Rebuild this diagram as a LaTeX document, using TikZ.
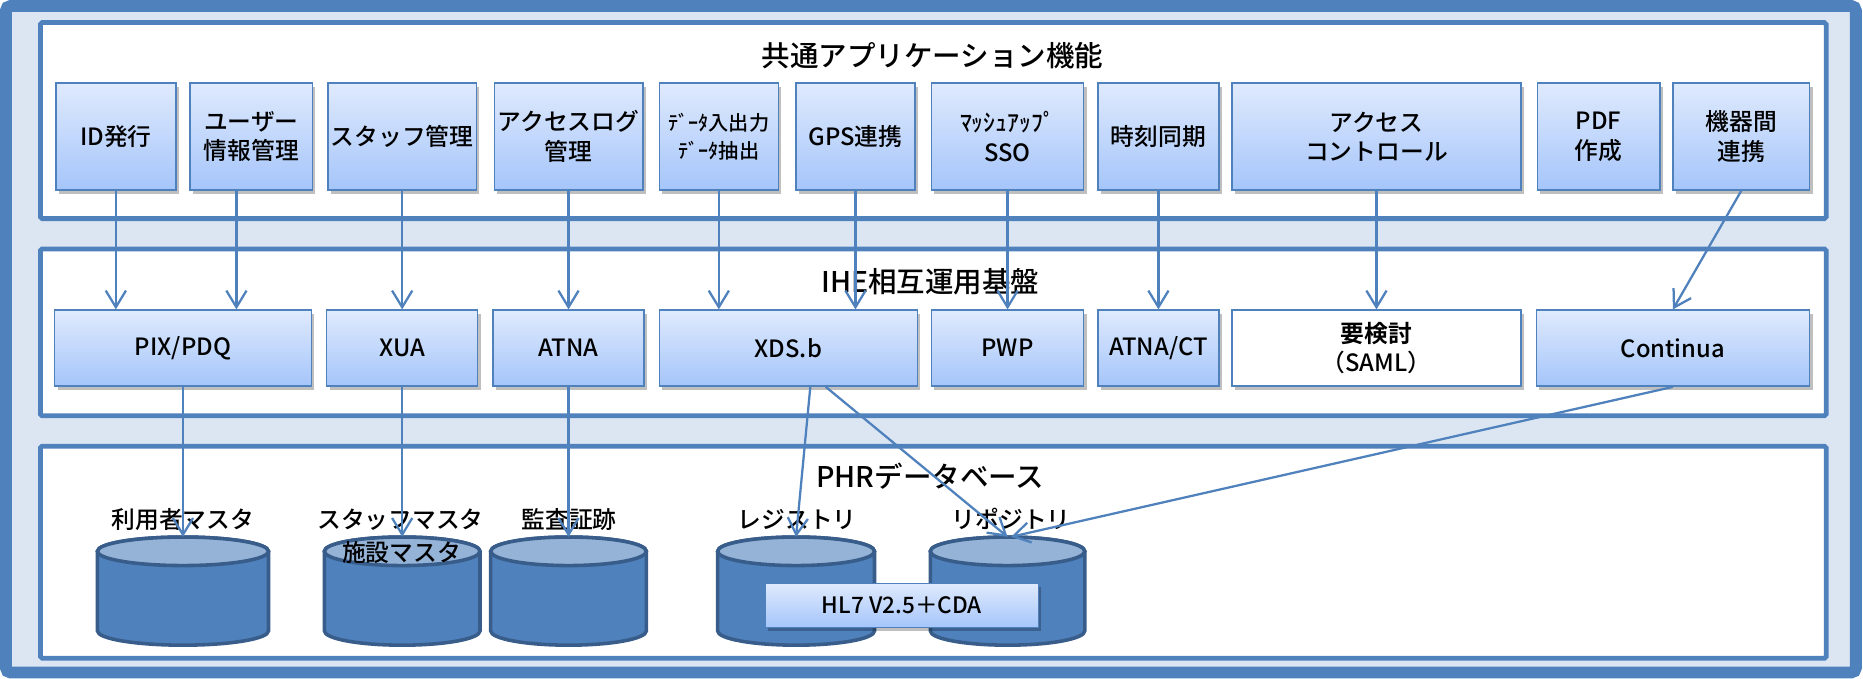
\documentclass[tikz,border=0pt]{standalone}
\usepackage{fontspec}
\setmainfont{Noto Sans CJK JP}[UprightFont=* Medium, BoldFont=* Bold]
\usetikzlibrary{arrows.meta,shadows,calc}
\definecolor{frameblue}{RGB}{79,129,189}
\definecolor{framefill}{RGB}{220,230,242}
\definecolor{boxtop}{RGB}{223,234,253}
\definecolor{boxbot}{RGB}{165,197,250}
\definecolor{cylstroke}{RGB}{56,93,138}
\definecolor{cyltopc}{RGB}{149,179,215}
\newcommand\fs[2]{\fontsize{#1}{#2}\selectfont}
\newcommand\dbcyl[3]{%
  \node[cylarea, minimum width=2*#3] (#1) at (#2,-497.5) {};
  \path[cylbody] (#2-#3,-464) -- (#2-#3,-531)
     arc[start angle=180,end angle=360,x radius=#3,y radius=12]
     -- (#2+#3,-464)
     arc[start angle=0,end angle=180,x radius=#3,y radius=12] -- cycle;
  \path[cyltop] (#2,-464) ellipse[x radius=#3, y radius=12];
}
\begin{document}
\begin{tikzpicture}[x=1pt,y=1pt,
  panel/.style={draw=frameblue, line width=4pt, fill=white, rounded corners=1.5pt},
  fbox/.style={draw=frameblue, line width=1.2pt, top color=boxtop, bottom color=boxbot,
    drop shadow={shadow xshift=2.5pt, shadow yshift=-3pt, fill=black, opacity=0.25},
    align=center, inner sep=0pt, font=\fs{20}{25}},
  wbox/.style={draw=frameblue, line width=1.2pt, fill=white,
    drop shadow={shadow xshift=2.5pt, shadow yshift=-3pt, fill=black, opacity=0.25},
    align=center, inner sep=0pt, font=\fs{20}{25}},
  topbox/.style={fbox, minimum height=90},
  midbox/.style={fbox, minimum height=64},
  title/.style={font=\fs{24}{28}, inner sep=0pt},
  dblabel/.style={font=\fs{20}{24}, inner sep=0pt},
  conn/.style={draw=frameblue, line width=1.9pt, -{Straight Barb[length=14pt, width=17pt]}},
  cylarea/.style={minimum height=91, inner sep=0pt, draw=none},
  cylbody/.style={fill=frameblue, draw=cylstroke, line width=3pt},
  cyltop/.style={fill=cyltopc, draw=cylstroke, line width=3pt},
]
\useasboundingbox (0,0) rectangle (1568,-571);
% outer frame
\draw[draw=frameblue, fill=framefill, line width=10pt, rounded corners=4pt] (5,-5) rectangle (1562,-566);
% panels
\draw[panel] (34,-19) rectangle (1537,-184);
\draw[panel] (34,-209.5) rectangle (1537,-350);
\draw[panel] (34,-375.5) rectangle (1537,-554);
% titles
\node[title] (t1) at (785,-47) {共通アプリケーション機能};
\node[title] (t2) at (783,-237) {IHE相互運用基盤};
\node[title] (t3) at (783,-401) {PHRデータベース};
% top boxes
\node[topbox, minimum width=101] (id) at (97.5,-115) {ID発行};
\node[topbox, minimum width=103] (user) at (211.5,-115) {ユーザー\\情報管理};
\node[topbox, minimum width=125] (staff) at (338.5,-115) {スタッフ管理};
\node[topbox, minimum width=125] (acclog) at (478.5,-115) {アクセスログ\\管理};
\node[topbox, minimum width=100, font=\fs{17}{23}] (data) at (605,-115) {ﾃﾞｰﾀ入出力\\ﾃﾞｰﾀ抽出};
\node[topbox, minimum width=100] (gps) at (720,-115) {GPS連携};
\node[topbox, minimum width=128] (mash) at (848,-115) {ﾏｯｼｭｱｯﾌﾟ\\SSO};
\node[topbox, minimum width=102] (time) at (975,-115) {時刻同期};
\node[topbox, minimum width=243] (acctl) at (1158.5,-115) {アクセス\\コントロール};
\node[topbox, minimum width=103] (pdf) at (1345.5,-115) {PDF\\作成};
\node[topbox, minimum width=115] (kiki) at (1465.5,-115) {機器間\\連携};
% middle boxes
\node[midbox, minimum width=216] (pix) at (154,-293) {PIX/PDQ};
\node[midbox, minimum width=127] (xua) at (338.5,-293) {XUA};
\node[midbox, minimum width=127] (atna) at (478.5,-293) {ATNA};
\node[midbox, minimum width=217] (xds) at (663.5,-293) {XDS.b};
\node[midbox, minimum width=128] (pwp) at (848,-293) {PWP};
\node[midbox, minimum width=102] (atnact) at (975,-293) {ATNA/CT};
\node[wbox, minimum width=243, minimum height=64] (saml) at (1158.5,-293) {\bfseries 要検討\\（SAML）};
\node[midbox, minimum width=230] (continua) at (1408,-293) {Continua};
% databases
\dbcyl{db1}{154}{72}
\dbcyl{db2}{338.5}{65.5}
\dbcyl{db3}{478.5}{65.5}
\dbcyl{reg}{670}{66}
\dbcyl{rep}{848}{65}
\node[fbox, minimum width=230, minimum height=37, font=\fs{19}{23}] (hl7) at (759,-509.5) {HL7 V2.5＋CDA};
% labels
\node[dblabel] (l1) at (154,-437) {利用者マスタ};
\node[dblabel] (l2) at (337,-437) {スタッフマスタ};
\node[dblabel] (l2b) at (338,-465) {施設マスタ};
\node[dblabel] (l3) at (479,-437) {監査証跡};
\node[dblabel] (l4) at (671,-437) {レジストリ};
\node[dblabel] (l5) at (851,-437) {リポジトリ};
% connectors top -> middle
\coordinate (userout) at ($(user.south)+(-12.5,0)$);
\draw[conn] (id.south) -- (id.south |- pix.north);
\draw[conn] (userout) -- (userout |- pix.north);
\draw[conn] (staff.south) -- (staff.south |- xua.north);
\draw[conn] (acclog.south) -- (acclog.south |- atna.north);
\draw[conn] (data.south) -- (data.south |- xds.north);
\draw[conn] (gps.south) -- (gps.south |- xds.north);
\draw[conn] (mash.south) -- (mash.south |- pwp.north);
\draw[conn] (time.south) -- (time.south |- atnact.north);
\draw[conn] (acctl.south) -- (acctl.south |- saml.north);
\draw[conn] (kiki.south) -- (continua.north);
% connectors middle -> bottom
\coordinate (xdsa) at ($(xds.south)+(18.5,0)$);
\coordinate (xdsb) at ($(xds.south)+(31.5,0)$);
\coordinate (repin) at ($(rep.north)+(3,0)$);
\draw[conn] (pix.south) -- (db1.north);
\draw[conn] (xua.south) -- (db2.north);
\draw[conn] (atna.south) -- (db3.north);
\draw[conn] (xdsa) -- (reg.north);
\draw[conn] (xdsb) -- (rep.north);
\draw[conn] (continua.south) -- (repin);
\end{tikzpicture}
\end{document}
